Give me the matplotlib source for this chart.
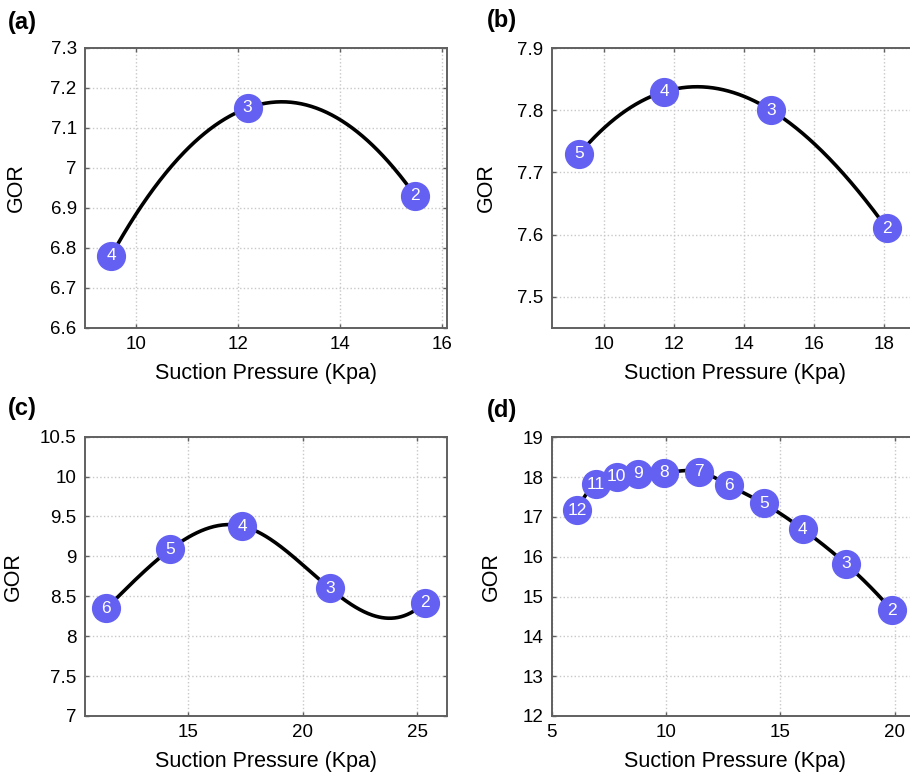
import numpy as np
import matplotlib
matplotlib.use("Agg")
import matplotlib.pyplot as plt

plt.rcParams['font.family'] = ['Liberation Sans', 'DejaVu Sans']

# ---- data ----
pressure_a = [9.51, 12.19, 15.48]
gor_a = [6.78, 7.15, 6.93]
labels_a = ['4', '3', '2']

pressure_b = [9.29, 11.71, 14.78, 18.08]
gor_b = [7.73, 7.83, 7.80, 7.61]
labels_b = ['5', '4', '3', '2']

pressure_c = [11.43, 14.23, 17.36, 21.18, 25.32]
gor_c = [8.35, 9.09, 9.38, 8.60, 8.42]
labels_c = ['6', '5', '4', '3', '2']

pressure_d = [6.12, 6.92, 7.84, 8.79, 9.92, 11.43, 12.74, 14.27, 15.98, 17.87, 19.87]
gor_d = [17.17, 17.82, 18.01, 18.08, 18.11, 18.14, 17.80, 17.34, 16.69, 15.82, 14.66]
labels_d = ['12', '11', '10', '9', '8', '7', '6', '5', '4', '3', '2']

xticks_a = [10, 12, 14, 16]
yticks_a = [6.6, 6.7, 6.8, 6.9, 7.0, 7.1, 7.2, 7.3]
yticklabels_a = ['6.6', '6.7', '6.8', '6.9', '7', '7.1', '7.2', '7.3']
xticks_b = [10, 12, 14, 16, 18]
yticks_b = [7.5, 7.6, 7.7, 7.8, 7.9]
yticklabels_b = ['7.5', '7.6', '7.7', '7.8', '7.9']
xticks_c = [15, 20, 25]
yticks_c = [7, 7.5, 8, 8.5, 9, 9.5, 10, 10.5]
yticklabels_c = ['7', '7.5', '8', '8.5', '9', '9.5', '10', '10.5']
xticks_d = [5, 10, 15, 20]
yticks_d = [12, 13, 14, 15, 16, 17, 18, 19]
yticklabels_d = ['12', '13', '14', '15', '16', '17', '18', '19']


def spline_curve(x, y, num=300):
    """Not-a-knot cubic spline through the points (parabola for 3 points)."""
    x = np.asarray(x, float)
    y = np.asarray(y, float)
    n = len(x)
    xs = np.linspace(x[0], x[-1], num)
    if n <= 3:
        c = np.polyfit(x, y, n - 1)
        return xs, np.polyval(c, xs)
    h = np.diff(x)
    d = np.diff(y) / h
    A = np.zeros((n, n))
    b = np.zeros(n)
    A[0, 0], A[0, 1], A[0, 2] = -h[1], h[0] + h[1], -h[0]
    A[-1, -3], A[-1, -2], A[-1, -1] = -h[-1], h[-1] + h[-2], -h[-2]
    for i in range(1, n - 1):
        A[i, i - 1] = h[i - 1]
        A[i, i] = 2 * (h[i - 1] + h[i])
        A[i, i + 1] = h[i]
        b[i] = 6 * (d[i] - d[i - 1])
    M = np.linalg.solve(A, b)
    idx = np.clip(np.searchsorted(x, xs) - 1, 0, n - 2)
    x0, x1 = x[idx], x[idx + 1]
    hh = x1 - x0
    ys = (M[idx] * (x1 - xs) ** 3 / (6 * hh) + M[idx + 1] * (xs - x0) ** 3 / (6 * hh)
          + (y[idx] / hh - M[idx] * hh / 6) * (x1 - xs)
          + (y[idx + 1] / hh - M[idx + 1] * hh / 6) * (xs - x0))
    return xs, ys


W, H = 910, 778
fig = plt.figure(figsize=(W / 100, H / 100), dpi=100)


def px_axes(l, t, r, b):
    return fig.add_axes([l / W, 1 - b / H, (r - l) / W, (b - t) / H])


MARKER_COLOR = '#6461f2'
SPINE_COLOR = '#606060'

panels = [
    dict(rect=(85, 48, 447, 328), x=pressure_a, y=gor_a, lab=labels_a,
         xlim=(9.0, 16.1), ylim=(6.6, 7.3), xt=xticks_a, yt=yticks_a, ytl=yticklabels_a,
         tag='(a)', tagpos=(8, 22), ylx=-0.16),
    dict(rect=(551.7, 48.3, 919, 327.7), x=pressure_b, y=gor_b, lab=labels_b,
         xlim=(8.5, 19.0), ylim=(7.45, 7.9), xt=xticks_b, yt=yticks_b, ytl=yticklabels_b,
         tag='(b)', tagpos=(487, 20), ylx=-0.15),
    dict(rect=(85, 436.7, 447, 716), x=pressure_c, y=gor_c, lab=labels_c,
         xlim=(10.5, 26.3), ylim=(7, 10.5), xt=xticks_c, yt=yticks_c, ytl=yticklabels_c,
         tag='(c)', tagpos=(8, 408), ylx=-0.17),
    dict(rect=(551.7, 437.3, 917.6, 716), x=pressure_d, y=gor_d, lab=labels_d,
         xlim=(5, 21), ylim=(12, 19), xt=xticks_d, yt=yticks_d, ytl=yticklabels_d,
         tag='(d)', tagpos=(487, 410), ylx=-0.135),
]

for p in panels:
    ax = px_axes(*p['rect'])
    xs, ys = spline_curve(p['x'], p['y'])
    ax.plot(xs, ys, color='black', lw=2.6, zorder=3, solid_capstyle='round')
    ax.plot(p['x'], p['y'], linestyle='none', marker='o', markersize=20,
            markerfacecolor=MARKER_COLOR, markeredgecolor=MARKER_COLOR, zorder=4,
            clip_on=False)
    for xv, yv, t in zip(p['x'], p['y'], p['lab']):
        ax.text(xv, yv, t, color='white', fontsize=12.5, ha='center', va='center',
                zorder=5, clip_on=False)
    ax.set_xlim(*p['xlim'])
    ax.set_ylim(*p['ylim'])
    ax.set_xticks(p['xt'])
    ax.set_yticks(p['yt'])
    ax.set_yticklabels(p['ytl'])
    ax.grid(True, linestyle=':', color='#c8c8c8', linewidth=1.0, zorder=0)
    ax.set_axisbelow(True)
    for s in ax.spines.values():
        s.set_color(SPINE_COLOR)
        s.set_linewidth(1.4)
    ax.tick_params(direction='in', length=3, width=1, color=SPINE_COLOR,
                   labelsize=13.5, top=True, right=True, pad=6)
    ax.set_xlabel('Suction Pressure (Kpa)', fontsize=15.5, labelpad=7)
    ax.set_ylabel('GOR', fontsize=15.5)
    ax.yaxis.set_label_coords(p['ylx'], 0.5)
    fig.text(p['tagpos'][0] / W, 1 - p['tagpos'][1] / H, p['tag'], fontsize=17,
             fontweight='bold', ha='left', va='center')

fig.savefig('out.png', dpi=100)
